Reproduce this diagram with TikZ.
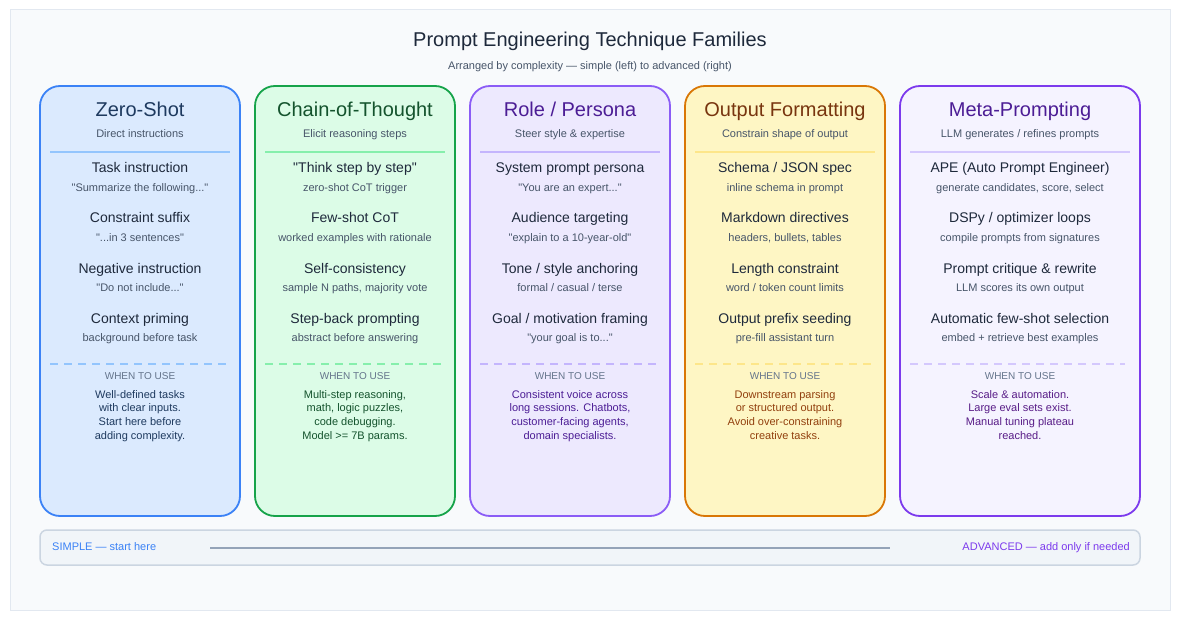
\documentclass[tikz,border=0pt]{standalone}
\usepackage{fontspec}
\setmainfont{Liberation Sans}[Ligatures=TeXOff]
\usepackage{xcolor}
\usepackage{tikz}
\usetikzlibrary{positioning}

\definecolor{pagebg}{HTML}{F8FAFC}
\definecolor{pageline}{HTML}{E2E8F0}
\definecolor{ink}{HTML}{1E293B}
\definecolor{muted}{HTML}{475569}
\definecolor{faint}{HTML}{64748B}
\definecolor{zsline}{HTML}{3B82F6}
\definecolor{zsfill}{HTML}{DBEAFE}
\definecolor{zssep}{HTML}{93C5FD}
\definecolor{zstext}{HTML}{1E3A5F}
\definecolor{cotline}{HTML}{16A34A}
\definecolor{cotfill}{HTML}{DCFCE7}
\definecolor{cotsep}{HTML}{86EFAC}
\definecolor{cottext}{HTML}{14532D}
\definecolor{roleline}{HTML}{8B5CF6}
\definecolor{rolefill}{HTML}{EDE9FE}
\definecolor{rolesep}{HTML}{C4B5FD}
\definecolor{roletext}{HTML}{4C1D95}
\definecolor{fmtline}{HTML}{D97706}
\definecolor{fmtfill}{HTML}{FEF6C4}
\definecolor{fmtsep}{HTML}{FDE68A}
\definecolor{fmttitle}{HTML}{78350F}
\definecolor{fmttext}{HTML}{92400E}
\definecolor{metaline}{HTML}{7C3AED}
\definecolor{metafill}{HTML}{F5F3FF}
\definecolor{metasep}{HTML}{D4C8FD}
\definecolor{metatitle}{HTML}{4C1D95}
\definecolor{metatext}{HTML}{581C87}
\definecolor{barfill}{HTML}{F1F5F9}
\definecolor{barline}{HTML}{CBD5E1}
\definecolor{scaleline}{HTML}{94A3B8}

\begin{document}
\begin{tikzpicture}[
    x=1pt, y=-1pt,
    col/.style={draw, rounded corners=20pt, line width=1.8pt, minimum width=200pt,
                minimum height=430pt, inner sep=0pt},
    ttl/.style={font=\fontsize{20}{24}\selectfont, inner sep=0pt, text height=14.3pt, text depth=0pt},
    sub/.style={font=\fontsize{11}{13}\selectfont, text=muted, inner sep=0pt, text height=7.9pt, text depth=0pt},
    item/.style={font=\fontsize{14}{17}\selectfont, text=ink, inner sep=0pt, text height=10pt, text depth=0pt},
    note/.style={font=\fontsize{11}{13}\selectfont, text=muted, inner sep=0pt, text height=7.9pt, text depth=0pt},
    when/.style={font=\fontsize{10}{12}\selectfont, text=faint, inner sep=0pt, text height=7.2pt, text depth=0pt},
    body/.style={font=\fontsize{11}{13.8}\selectfont, align=center, anchor=north, inner sep=0pt},
    rule/.style={line width=1.5pt},
    dashrule/.style={line width=1.5pt, dash pattern=on 8pt off 6pt},
    barlbl/.style={font=\fontsize{11}{13}\selectfont, inner sep=0pt, text height=7.9pt, text depth=0pt}
]
    \useasboundingbox (0,0) rectangle (1180,620);
    \draw[fill=pagebg, draw=pageline, line width=1pt] (10,10) rectangle (1170,610);

    \node[ttl, text=ink] (title) at (590,39) {Prompt Engineering Technique Families};
    \node[sub] (subtitle) at (590,66)
        {Arranged by complexity — simple (left) to advanced (right)};

    % Zero-Shot
    \node[col, draw=zsline, fill=zsfill] (zs) at (140,301) {};
    \node[ttl, text=zstext] (zs-t) at (140,109) {Zero-Shot};
    \node[sub] (zs-s) at (140,134) {Direct instructions};
    \draw[rule, zssep] (50,152) -- (230,152);
    \foreach \nm/\dsc [count=\i] in {{Task instruction}/{"Summarize the following..."},
        {Constraint suffix}/{"...in 3 sentences"}, {Negative instruction}/{"Do not include..."},
        {Context priming}/{background before task}} {
        \node[item] (zs-\i) at (140,118+50*\i) {\nm};
        \node[note] (zs-d\i) at (140,138+50*\i) {\dsc};
    }
    \draw[dashrule, zssep] (50,364) -- (230,364);
    \node[when] (zs-w) at (140,376) {WHEN TO USE};
    \node[body, text=zstext] (zs-b) at (140,390)
        {Well-defined tasks\\with clear inputs.\\Start here before\\adding complexity.};

    % Chain-of-Thought
    \node[col, draw=cotline, fill=cotfill] (cot) at (355,301) {};
    \node[ttl, text=cottext] (cot-t) at (355,109) {Chain-of-Thought};
    \node[sub] (cot-s) at (355,134) {Elicit reasoning steps};
    \draw[rule, cotsep] (265,152) -- (445,152);
    \foreach \nm/\dsc [count=\i] in {{"Think step by step"}/{zero-shot CoT trigger},
        {Few-shot CoT}/{worked examples with rationale},
        {Self-consistency}/{sample N paths, majority vote},
        {Step-back prompting}/{abstract before answering}} {
        \node[item] (cot-\i) at (355,118+50*\i) {\nm};
        \node[note] (cot-d\i) at (355,138+50*\i) {\dsc};
    }
    \draw[dashrule, cotsep] (265,364) -- (445,364);
    \node[when] (cot-w) at (355,376) {WHEN TO USE};
    \node[body, text=cottext] (cot-b) at (355,390)
        {Multi-step reasoning,\\math, logic puzzles,\\code debugging.\\Model >= 7B params.};

    % Role / Persona
    \node[col, draw=roleline, fill=rolefill] (role) at (570,301) {};
    \node[ttl, text=roletext] (role-t) at (570,109) {Role / Persona};
    \node[sub] (role-s) at (570,134) {Steer style \& expertise};
    \draw[rule, rolesep] (480,152) -- (660,152);
    \foreach \nm/\dsc [count=\i] in {{System prompt persona}/{"You are an expert..."},
        {Audience targeting}/{"explain to a 10-year-old"},
        {Tone / style anchoring}/{formal / casual / terse},
        {Goal / motivation framing}/{"your goal is to..."}} {
        \node[item] (role-\i) at (570,118+50*\i) {\nm};
        \node[note] (role-d\i) at (570,138+50*\i) {\dsc};
    }
    \draw[dashrule, rolesep] (480,364) -- (660,364);
    \node[when] (role-w) at (570,376) {WHEN TO USE};
    \node[body, text=roletext] (role-b) at (570,390)
        {Consistent voice across\\long sessions. Chatbots,\\customer-facing agents,\\domain specialists.};

    % Output Formatting
    \node[col, draw=fmtline, fill=fmtfill] (fmt) at (785,301) {};
    \node[ttl, text=fmttitle] (fmt-t) at (785,109) {Output Formatting};
    \node[sub] (fmt-s) at (785,134) {Constrain shape of output};
    \draw[rule, fmtsep] (695,152) -- (875,152);
    \foreach \nm/\dsc [count=\i] in {{Schema / JSON spec}/{inline schema in prompt},
        {Markdown directives}/{headers, bullets, tables},
        {Length constraint}/{word / token count limits},
        {Output prefix seeding}/{pre-fill assistant turn}} {
        \node[item] (fmt-\i) at (785,118+50*\i) {\nm};
        \node[note] (fmt-d\i) at (785,138+50*\i) {\dsc};
    }
    \draw[dashrule, fmtsep] (695,364) -- (875,364);
    \node[when] (fmt-w) at (785,376) {WHEN TO USE};
    \node[body, text=fmttext] (fmt-b) at (785,390)
        {Downstream parsing\\or structured output.\\Avoid over-constraining\\creative tasks.};

    % Meta-Prompting
    \node[col, minimum width=240pt, draw=metaline, fill=metafill] (meta) at (1020,301) {};
    \node[ttl, text=metatitle] (meta-t) at (1020,109) {Meta-Prompting};
    \node[sub] (meta-s) at (1020,134) {LLM generates / refines prompts};
    \draw[rule, metasep] (910,152) -- (1130,152);
    \foreach \nm/\dsc [count=\i] in {{APE (Auto Prompt Engineer)}/{generate candidates, score, select},
        {DSPy / optimizer loops}/{compile prompts from signatures},
        {Prompt critique \& rewrite}/{LLM scores its own output},
        {Automatic few-shot selection}/{embed + retrieve best examples}} {
        \node[item] (meta-\i) at (1020,118+50*\i) {\nm};
        \node[note] (meta-d\i) at (1020,138+50*\i) {\dsc};
    }
    \draw[dashrule, metasep] (910,364) -- (1125,364);
    \node[when] (meta-w) at (1020,376) {WHEN TO USE};
    \node[body, text=metatext] (meta-b) at (1020,390)
        {Scale \& automation.\\Large eval sets exist.\\Manual tuning plateau\\reached.};

    % complexity scale
    \node[draw=barline, fill=barfill, line width=1.5pt, rounded corners=7pt,
          minimum width=1100pt, minimum height=35pt, inner sep=0pt] (scale) at (590,547.5) {};
    \node[barlbl, text=zsline, anchor=west] (simple) at (52,547) {SIMPLE — start here};
    \node[barlbl, text=metaline, anchor=east] (advanced) at (1130,547) {ADVANCED — add only if needed};
    \coordinate (scale-l) at (210,548);
    \coordinate (scale-r) at (890,548);
    \draw[scaleline, line width=2pt] (scale-l) -- (scale-r);
\end{tikzpicture}
\end{document}
